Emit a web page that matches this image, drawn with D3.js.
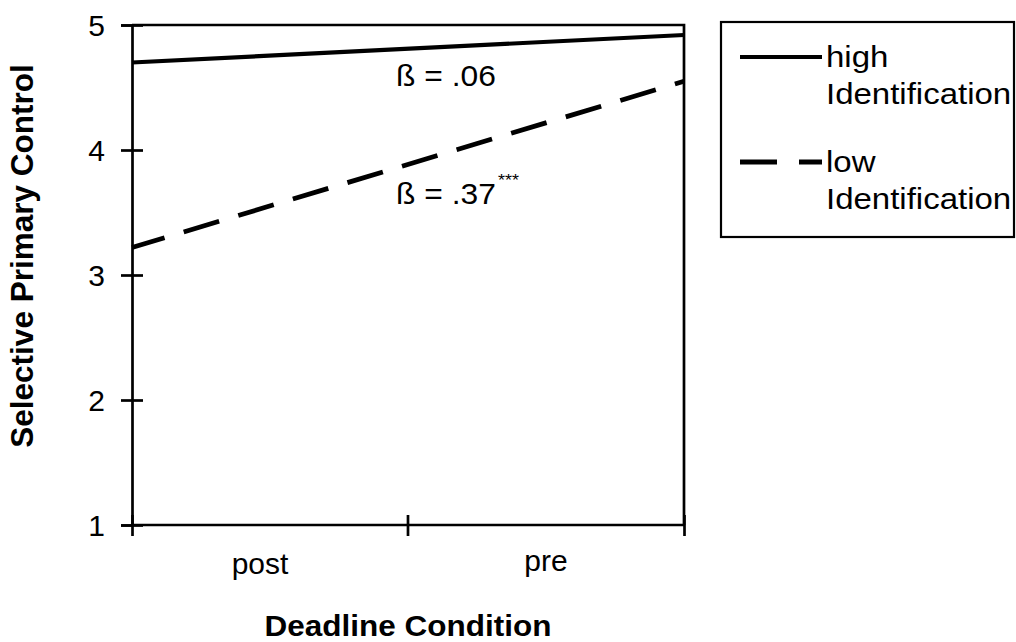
<!DOCTYPE html>
<html>
<head>
<meta charset="utf-8">
<script src="https://cdn.jsdelivr.net/npm/d3@7"></script>
<style>
  html, body { margin: 0; padding: 0; background: #fff; }
  svg { display: block; }
  text { font-family: "Liberation Sans", Arial, sans-serif; fill: #000; }
</style>
</head>
<body>
<svg id="chart" width="1016" height="642"></svg>
<script>
// ---- data ----
const categories = ["post", "pre"];
const highValues = [4.70, 4.92];
const lowValues  = [3.22, 4.55];
const seriesNames = ["high\nIdentification", "low\nIdentification"];
const yTicks = [1, 2, 3, 4, 5];
const betaLabels = ["ß = .06", "ß = .37"];
const betaSup = ["", "***"];
const betaYs = [4.51, 3.57];

(function () {
const svg = d3.select("#chart");
const pL = 132, pR = 684, pT = 25, pB = 525;

const x = d3.scalePoint().domain(categories).range([pL, pR]);
const xBand = d3.scaleBand().domain(categories).range([pL, pR]);
const y = d3.scaleLinear().domain([1, 5]).range([pB, pT]);

const axisW = 2.7;

// frame (top + right)
svg.append("path")
  .attr("d", `M${pL},${y(5)}H${pR}V${y(1)}`)
  .attr("fill", "none").attr("stroke", "#000").attr("stroke-width", axisW);

// y axis
const yAxis = svg.append("g").attr("transform", `translate(${pL},0)`)
  .call(d3.axisLeft(y).tickValues(yTicks).tickFormat(d3.format("d")).tickSize(11).tickPadding(16));
yAxis.select(".domain").attr("stroke-width", axisW);
yAxis.selectAll(".tick line").attr("x1", 11).attr("x2", -11).attr("stroke-width", axisW);
yAxis.selectAll(".tick text")
  .style("font-family", '"Liberation Sans", Arial, sans-serif')
  .style("font-size", "30px")
  .attr("dy", "0.36em");

// x axis
const xAxis = svg.append("g").attr("transform", `translate(0,${pB})`)
  .call(d3.axisBottom(x).tickSize(11).tickFormat(""));
xAxis.select(".domain").attr("stroke-width", axisW).attr("d", `M${pL},0H${pR}`);
xAxis.selectAll(".tick line").attr("y1", -10).attr("y2", 11).attr("stroke-width", axisW);
const midX = (x(categories[0]) + x(categories[1])) / 2;
xAxis.append("line")
  .attr("x1", midX).attr("x2", midX)
  .attr("y1", -10).attr("y2", 11)
  .attr("stroke", "#000").attr("stroke-width", axisW);

// category labels
svg.append("g").selectAll("text").data(categories).join("text")
  .attr("x", d => xBand(d) + xBand.bandwidth() / 2)
  .attr("dx", (d, i) => i === 0 ? -10 : 0)
  .attr("y", (d, i) => pB + 49 - i * 3)
  .attr("text-anchor", "middle")
  .style("font-size", "30px")
  .text(d => d);

// axis titles
svg.append("text")
  .attr("transform", `translate(${(pL + pR) / 2},636) scale(1.05,1)`)
  .attr("text-anchor", "middle")
  .style("font-size", "30px").style("font-weight", "bold")
  .text("Deadline Condition");

svg.append("text")
  .attr("transform", `translate(33,256) rotate(-90)`)
  .attr("text-anchor", "middle")
  .style("font-size", "31.5px").style("font-weight", "bold")
  .text("Selective Primary Control");

// lines
const line = d3.line().x((d, i) => x(categories[i])).y(d => y(d));
svg.append("path").datum(highValues)
  .attr("d", line).attr("fill", "none").attr("stroke", "#000").attr("stroke-width", 4.2);
svg.append("path").datum(lowValues)
  .attr("d", line).attr("fill", "none").attr("stroke", "#000").attr("stroke-width", 4.8)
  .attr("stroke-dasharray", "37,20").attr("stroke-dashoffset", 3);

// beta annotations
betaLabels.forEach((t, i) => {
  const tx = svg.append("text")
    .attr("transform", `translate(${midX - 12},${y(betaYs[i])}) scale(1.06,1)`)
    .style("font-size", "30px");
  tx.append("tspan").text(t);
  if (betaSup[i]) {
    tx.append("tspan").attr("dx", 2).attr("dy", -18).style("font-size", "17px").text(betaSup[i]);
  }
});

// legend
const lg = svg.append("g");
lg.append("rect").attr("x", 721).attr("y", 22).attr("width", 293).attr("height", 215)
  .attr("fill", "none").attr("stroke", "#000").attr("stroke-width", 2.2);
const legendRows = [
  { name: seriesNames[0], dash: null, w: 4.2, ly: 57, ty: 67 },
  { name: seriesNames[1], dash: "37,22", w: 4.8, ly: 162, ty: 172 }
];
legendRows.forEach(r => {
  lg.append("line").attr("x1", 740).attr("x2", 822).attr("y1", r.ly).attr("y2", r.ly)
    .attr("stroke", "#000").attr("stroke-width", r.w)
    .attr("stroke-dasharray", r.dash);
  const parts = r.name.split("\n");
  parts.forEach((p, j) => {
    lg.append("text")
      .attr("transform", `translate(826,${r.ty + j * 37}) scale(1.1,1)`)
      .style("font-size", "30px")
      .text(p);
  });
});
})();
</script>
</body>
</html>
